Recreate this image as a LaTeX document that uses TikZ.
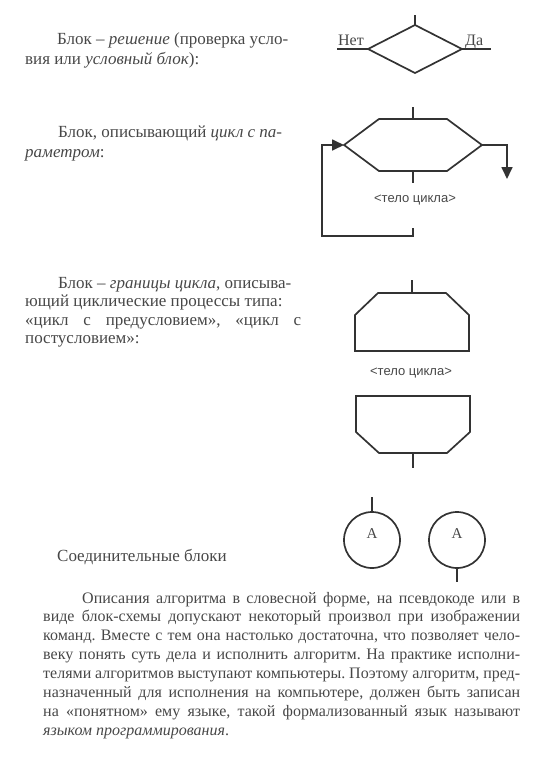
\documentclass[tikz,border=0pt]{standalone}
\usepackage{fontspec}
\setmainfont{Liberation Serif}
\setsansfont{Liberation Sans}
\usetikzlibrary{positioning,arrows.meta,shapes.geometric,calc}

\definecolor{inkgray}{gray}{0.2}
\definecolor{textgray}{gray}{0.28}

\begin{document}
\begin{tikzpicture}[
    x=1pt, y=-1pt,
    font=\fontsize{17}{20}\selectfont\frenchspacing,
    % ---- styles -------------------------------------------------
    line/.style={draw=inkgray, line width=1.7pt},
    flow/.style={line, -{Triangle[length=12pt,width=11pt]}},
    txt/.style={inner sep=0pt, anchor=base west, text=textgray},
    body/.style={inner sep=0pt, text=textgray,
        font=\sffamily\fontsize{13}{15}\selectfont},
    frame/.style 2 args={inner sep=0pt, outer sep=0pt,
        minimum width=#1, minimum height=#2},
    decide/.style={diamond, draw=inkgray, line width=1.7pt,
        minimum width=94pt, minimum height=48pt, inner sep=0pt, outer sep=0pt},
    joint/.style={circle, draw=inkgray, line width=1.7pt,
        minimum size=56pt, inner sep=0pt, outer sep=0pt},
    letter/.style={inner sep=0pt, text=textgray, font=\fontsize{15}{18}\selectfont},
]
\useasboundingbox (0,0) rectangle (556,769);

% =================== DECISION BLOCK ===========================
\node[txt] (decA1) at (57,44) {Блок – \textit{решение} (проверка усло-};
\node[txt] (decA2) at (25,64) {вия или \textit{условный блок}):};

\node[decide] (cond) at (415,49) {};
\coordinate (cond-in)  at (415,15);
\coordinate (cond-no)  at (337,49);
\coordinate (cond-yes) at (491,49);
\draw[line] (cond-in) -- (cond.north);
\draw[line] (cond.west) -- (cond-no);
\draw[line] (cond.east) -- (cond-yes);
\node[txt, anchor=base east, font=\fontsize{16}{19}\selectfont] (no)  at (364,45) {Нет};
\node[txt, font=\fontsize{16}{19}\selectfont]                   (yes) at (465,45) {Да};

% =================== LOOP WITH PARAMETER ======================
\node[txt] (parB1) at (58,137) {Блок, описывающий \textit{цикл с па-}};
\node[txt] (parB2) at (25,157) {\textit{раметром}:};

\node[frame={138pt}{52pt}] (param) at (413,145) {};
\draw[line] (param.west) -- ([xshift=35pt]param.north west)
    -- ([xshift=-35pt]param.north east) -- (param.east)
    -- ([xshift=-35pt]param.south east) -- ([xshift=35pt]param.south west) -- cycle;

\coordinate (param-in)   at (413,107);
\coordinate (param-out)  at (413,183);
\coordinate (param-back) at (413,228);
\coordinate (param-exit) at (507,179);
\draw[line] (param-in) -- (param.north);
\draw[line] (param.south) -- (param-out);
\node[body] (paramBody) at (415,200) {<тело цикла>};
\draw[flow] (param.east) -| (param-exit);
\draw[flow] (param-back) -- ++(0,8) -| ($(param.west)+(-22,0)$) -- (param.west);

% =================== LOOP LIMITS ==============================
\node[txt] (limC1) at (58,288) {Блок – \textit{границы цикла}, описыва-};
\node[txt] (limC2) at (25,306.5) {ющий циклические процессы типа:};
\node[txt] (limC3) at (25,325) {\hbox to 276pt{«цикл с предусловием», «цикл с}};
\node[txt] (limC4) at (25,343.5) {постусловием»:};

\node[frame={114pt}{58pt}] (pre) at (412,322) {};
\draw[line] (pre.south west) -- ([yshift=-22pt]pre.north west)
    -- ([xshift=23pt]pre.north west) -- ([xshift=-23pt]pre.north east)
    -- ([yshift=-22pt]pre.north east) -- (pre.south east) -- cycle;
\coordinate (pre-in) at (412,280);
\draw[line] (pre-in) -- (pre.north);

\node[body] (limBody) at (411,373) {<тело цикла>};

\node[frame={114pt}{57pt}] (post) at (413,424.5) {};
\draw[line] (post.north west) -- ([yshift=21pt]post.south west)
    -- ([xshift=23pt]post.south west) -- ([xshift=-23pt]post.south east)
    -- ([yshift=21pt]post.south east) -- (post.north east) -- cycle;
\coordinate (post-out) at (413,468);
\draw[line] (post.south) -- (post-out);

% =================== CONNECTORS ===============================
\node[txt] (conLabel) at (57,561) {Соединительные блоки};

\node[joint] (conA) at (372,540) {};
\node[letter] (conA-txt) at ($(conA)+(0,-6)$) {А};
\coordinate (conA-in) at (372,497);
\draw[line] (conA-in) -- (conA.north);

\node[joint] (conB) at (457,540) {};
\node[letter] (conB-txt) at ($(conB)+(0,-6)$) {А};
\coordinate (conB-out) at (457,582);
\draw[line] (conB.south) -- (conB-out);

% =================== TEXT BELOW ===============================
\node[txt, text width=477pt, align=justify,
      font=\fontsize{16}{18.9}\selectfont\frenchspacing] (prose) at (43,603)
{\tolerance=9999\hspace*{39pt}Описания алгоритма в словесной форме, на псевдокоде или в\linebreak
 виде блок-схемы допускают некоторый произвол при изображении\linebreak
 команд. Вместе с тем она настолько достаточна, что позволяет чело-\linebreak
 веку понять суть дела и исполнить алгоритм. На практике исполни-\linebreak
 телями алгоритмов выступают компьютеры. Поэтому алгоритм, пред-\linebreak
 назначенный для исполнения на компьютере, должен быть записан\linebreak
 на «понятном» ему языке, такой формализованный язык называют\linebreak
 \textit{языком программирования}.};

\end{tikzpicture}
\end{document}
